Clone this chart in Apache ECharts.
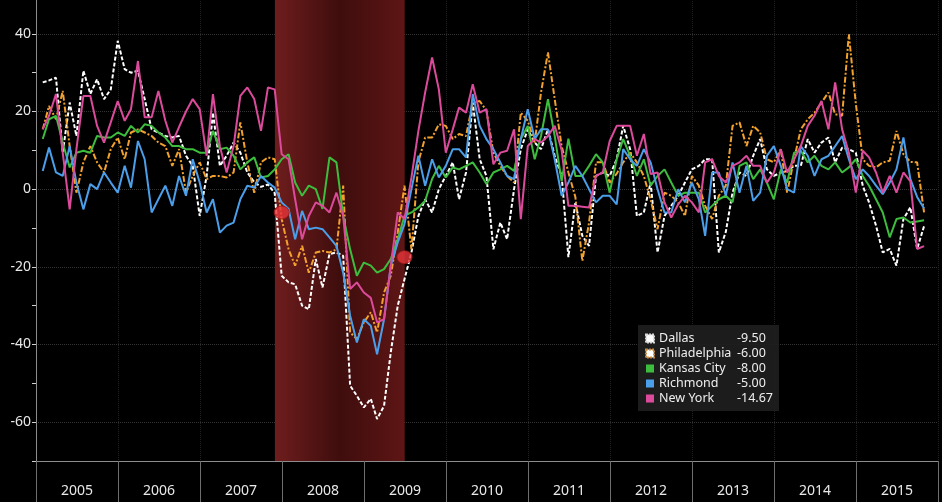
<!DOCTYPE html>
<html>
<head>
<meta charset="utf-8">
<title>Regional Fed manufacturing surveys</title>
<script src="https://cdn.jsdelivr.net/npm/echarts/dist/echarts.min.js"></script>
<style>
html, body { margin: 0; padding: 0; background: #000; }
#survey_content { width: 942px; height: 502px; }
</style>
</head>
<body>
<div id="survey_content"></div>
<script>
// monthly readings, Jan 2005 .. Oct 2015
var startYear = 2005;
var yearLabels = ['2005', '2006', '2007', '2008', '2009', '2010', '2011', '2012', '2013', '2014', '2015'];
var seriesNames = ['Dallas', 'Philadelphia', 'Kansas City', 'Richmond', 'New York'];

var dallas = [
    27.5, 28, 28.7, 9.4, 22.3, 13.7, 30.5, 24.5, 28.3, 23.2,
    25.7, 38.2, 30.9, 30, 30.5, 23.2, 15.4, 14.6, 13.7, 13.3,
    13.7, 8.6, 6, -6.9, 3.4, 19.7, 6, 8.6, 12, 9.4,
    4.3, 1.8, 0.6, 1.2, -1, -22.3, -24, -24.5, -30, -30.9,
    -18, -25.3, -16.7, -16.3, -17.2, -50.6, -53.2, -56.2, -54, -59.2,
    -55.8, -42, -30, -23.2, -16.3, -6.9, -2.6, -6, 0, 3.4,
    6.9, -2.6, 4.3, 22.3, 7.7, 3.4, -15.5, -8.6, -12.9, 0,
    10.3, 15.4, 12, 10.3, 15.4, 8.6, 3.4, -17.5, -3.4, -12,
    -14.6, 3.4, 4.3, 3.4, 7.7, 16.3, 10.3, -6.9, -6, 1.7,
    -16.3, -6.9, -4.3, -1.7, 1.7, 5.1, 6, 7.7, 7.7, -16.3,
    -11, -0.9, 4.3, 3.4, 8.6, 12.9, 5.1, 3.4, 4.3, 4.7,
    6, 6, 12.9, 9.4, 12, 13.3, 6.9, 10.7, 10.3, 9.4,
    0.9, -3.4, -9.4, -16.3, -15.4, -19.7, -7.7, -4.7, -15.4, -9.5
];
var philadelphia = [
    15.4, 21.4, 18, 25.3, 11.1, -0.9, 6.9, 11.1, 6.9, 4.3,
    10.3, 13.3, 7.7, 14.6, 15.4, 14.6, 13.7, 12, 11.1, 6,
    10.3, -0.9, 3.4, 6.9, 2.6, 3.4, 3.4, 3, 4.3, 17.2,
    6.9, -0.9, 6.9, 8.2, 7.7, -7.7, -15.5, -19.7, -14.6, -21.5,
    -16.3, -15.9, -16.3, -15.5, 0.9, -36.9, -38.6, -34.3, -31.7, -36.9,
    -26.6, -22.3, -11.2, 0.9, -15.5, 7, 13.3, 13.3, 16.7, 16.3,
    12.9, 14.2, 13.7, 22.3, 22.7, 20.2, 9.4, 6, 3.4, 1.7,
    19.7, 17.6, 12, 24.9, 35.2, 23.2, 11.1, 4.3, -2, -18.5,
    -8.6, 6.9, 6.9, 1.7, 4, 6.9, 9.4, 6.9, 3.4, -2.6,
    -10.3, -0.9, -1.7, -3.4, -6.9, 3.4, 0.9, -4.3, -7.7, -1.7,
    0.9, 16.3, 17.2, 11.1, 16.3, 14.6, 7.7, 6.9, 10.3, -0.9,
    7.7, 15.4, 18, 19.7, 22.3, 24.9, 19.3, 18.9, 39.9, 22,
    7.7, 6, 5.6, 6.9, 7.3, 15, 9, 7, 6.9, -6
];
var kansasCity = [
    12.9, 18, 18.9, 12, 5.6, 9.4, 9.9, 9.4, 13.7, 13.3,
    13.3, 14.6, 13.7, 16.3, 14.6, 16.7, 16.3, 14.6, 13.3, 11.1,
    11.1, 10.3, 10.3, 9.4, 9.4, 15, 10.3, 10.7, 8.6, 5.1,
    6.9, 8.2, 3, 3.4, 5.1, 7.7, 9, 1.7, -1.7, 0.9,
    0, -5.1, 8.2, 6.9, -6.9, -15.5, -22.3, -18.9, -19.7, -21.5,
    -20.6, -18, -12.9, -6.9, -6, -4.7, -3, 2.6, 6, 3,
    5.6, 5.1, 6, 6.9, 4.3, 1.3, 4.3, 5.1, 6, 4.7,
    12.9, 16.3, 7.7, 13.7, 23.2, 13.7, 2, 13, 3.4, 3.4,
    6, 9, 6.9, -0.9, 7.7, 12.9, 8.6, 3.4, 7.7, 0.9,
    3.4, 5.1, 1.7, -1.7, -0.9, -0.9, -0.9, -6, -4.3, -2.6,
    -1.7, -3.4, 6, 6.9, 2.6, 5.1, 1.7, -2.6, 5.1, 1.7,
    9.4, 9.9, 6.9, 8.6, 6, 5.1, 6.9, 4.3, 5.6, 7.7,
    3.4, 0.9, -2.6, -6, -12.4, -7.7, -7.3, -8.6, -8.3, -8
];
var richmond = [
    4.7, 10.7, 4.3, 3.4, 11.1, 1.7, -5.2, 1.3, 0, 4.3,
    1.7, -0.9, 6, 0.4, 12.4, 7.7, -6, -2.6, 0.9, -4.3,
    3.4, -1.7, 7.7, 1.7, -6, -2.6, -11.2, -9.4, -8.6, -2.6,
    0.9, 0.4, 3.4, 1.7, 0.4, -3.4, -5.1, -12.9, -5.6, -10.3,
    -9.9, -10.3, -12.4, -14.6, -21.5, -32.6, -39.5, -33.5, -35.2, -42.5,
    -33.5, -19.7, -13.7, -9, 0, 8.6, 0.9, 7.7, 3, 6,
    10.3, 10.3, 8.2, 24.5, 16.3, 12.9, 10.3, 6.9, 3.4, 2.6,
    12.9, 20.6, 12.9, 15.4, 15.4, 7.7, -1.7, 1.7, 6, 3.4,
    0, -3.4, -1.7, -1.7, -3.9, 10.3, 7.7, 6, 10.3, 6.9,
    0, -6, -6, 0, -3.4, 1.7, -2.6, -12, 4.3, 4.3,
    -1.7, 6.9, -0.9, 6, -3, -0.9, 8.6, 11.1, 6, 0,
    -0.9, 11.1, 8.6, 3.4, 7.7, 8.6, 11.1, 13.7, 7.7, 2.6,
    5.1, 3.4, 0.9, -1.3, 1.7, 5.1, 13.3, 2.6, -2, -5
];
var newYork = [
    15.4, 18.9, 24.5, 9.4, -5.2, 10.3, 24, 24, 16.3, 12,
    17.2, 22.7, 17.6, 20.6, 33, 18.5, 18.5, 25.3, 17.6, 12,
    16, 20, 23.2, 20.6, 8.6, 24.5, 11, 4.3, 11.1, 24,
    26.2, 23.2, 15, 26.2, 25.7, 9, 7.7, -2.6, -12.9, -6.9,
    -3.4, -4.3, -6, -0.9, -6.9, -25.7, -24, -26.6, -28, -34.3,
    -33.5, -19.7, -6, -7.7, 3, 15, 24.9, 33.9, 25.7, 9.4,
    15.4, 21, 19.7, 27, 19.7, 20.6, 6.4, 9.4, 9.9, 15.4,
    -7.7, 11.1, 12.9, 12, 13.7, 16.3, 10, -4.3, -4.3, -4.5,
    -4.7, 3.4, 4.3, 12.4, 16.3, 16.3, 16.3, 8.6, 14.2, 3.9,
    4.3, -3.4, -7.3, -3.9, -1.7, -3.4, -6, 6.9, 7.7, 3.4,
    1.7, 6, 6.9, 8.6, 6, 6, 1.7, 4.3, 10.3, 4.3,
    7.7, 11.1, 16.3, 18.9, 22.7, 15.4, 27.5, 15.4, 9.4, -0.9,
    9.9, 8.2, 4.3, -0.9, 3.4, -0.9, 4.3, 2, -15.4, -14.67
];

// NBER recession and the two event flags on it
var recession = [[2007, 12], [2009, 7]];
var recessionMarks = [[2007, 12, -6], [2009, 6, -17.5]];

function RegionalSurveys(){

}
RegionalSurveys.prototype.init = function(){
    this.loadSurveyChart();
}
RegionalSurveys.prototype.monthEnd = function(year, month){
    return new Date(year, month, 0).getTime();
}
RegionalSurveys.prototype.toPairs = function(values){
    var self = this;
    return values.map(function(v, i){
        return [self.monthEnd(startYear, i + 1), v];
    });
}
RegionalSurveys.prototype.loadSurveyChart = function(){
    var self = this;
    var chartInstance = echarts.init(document.getElementById('survey_content'));
    var font = 'Noto Sans';
    var allValues = [dallas, philadelphia, kansasCity, richmond, newYork];
    var colors = ['#ffffff', '#f2a12e', '#3dbd3d', '#4b9fea', '#dc4a9c'];
    var dashes = [[4, 2], [6, 2, 2, 2], 'solid', 'solid', 'solid'];
    var iconEdge = ['#d8d8d8', '#c98a3a'];

    var lastText = {};
    seriesNames.forEach(function(name, k){
        var arr = allValues[k];
        lastText[name] = arr[arr.length - 1].toFixed(2);
    });

    var legendData = seriesNames.map(function(name, k){
        if (k < 2) {
            return {
                name: name,
                icon: 'emptyRect',
                itemStyle: {
                    color: iconEdge[k],
                    borderColor: iconEdge[k],
                    borderWidth: 1,
                    borderType: [2, 1]
                }
            };
        }
        return { name: name, icon: 'rect', itemStyle: { color: colors[k], borderWidth: 0 } };
    });

    var series = [{
        // recession shading
        type: 'line',
        data: [],
        z: 1,
        silent: true,
        markArea: {
            silent: true,
            itemStyle: {
                color: new echarts.graphic.LinearGradient(0, 0, 1, 0, [
                    { offset: 0, color: '#6e1d1d' },
                    { offset: 0.5, color: '#3f0d0d' },
                    { offset: 1, color: '#5e1515' }
                ])
            },
            data: [[
                { xAxis: new Date(recession[0][0], recession[0][1] - 1, 1).getTime() },
                { xAxis: new Date(recession[1][0], recession[1][1] - 1, 1).getTime() }
            ]]
        }
    }];
    seriesNames.forEach(function(name, k){
        series.push({
            name: name,
            type: 'line',
            xAxisIndex: 0,
            data: self.toPairs(allValues[k]),
            showSymbol: false,
            symbol: 'none',
            z: 3,
            lineStyle: { color: colors[k], width: 2, type: dashes[k] },
            itemStyle: { color: colors[k] }
        });
    });
    series.push({
        type: 'scatter',
        xAxisIndex: 0,
        z: 6,
        silent: true,
        symbol: 'circle',
        symbolSize: [15, 13],
        itemStyle: { color: '#e8343a', borderColor: '#9a1818', borderWidth: 1 },
        data: recessionMarks.map(function(m){
            return [self.monthEnd(m[0], m[1]), m[2]];
        })
    });

    var option = {
        backgroundColor: '#000',
        animation: false,
        grid: {
            left: 36,
            right: 4,
            top: -5,
            bottom: 41,
            containLabel: false,
            outerBoundsMode: 'none'
        },
        legend: {
            orient: 'vertical',
            left: 638,
            top: 325,
            backgroundColor: 'rgba(30,30,30,0.92)',
            padding: [7, 6, 6, 7],
            itemGap: 2,
            itemWidth: 8,
            itemHeight: 8,
            selectedMode: false,
            textStyle: {
                color: '#eeeeee',
                fontFamily: font,
                fontSize: 12.5,
                rich: {
                    n: { width: 78, color: '#eeeeee', fontFamily: font, fontSize: 12.5, lineHeight: 14 },
                    v: { color: '#eeeeee', fontFamily: font, fontSize: 12.5, lineHeight: 14 }
                }
            },
            formatter: function(name){
                return '{n|' + name + '}{v|' + lastText[name] + '}';
            },
            data: legendData
        },
        xAxis: [{
            type: 'time',
            min: new Date(startYear, 0, 1).getTime(),
            max: new Date(startYear + yearLabels.length, 0, 1).getTime(),
            position: 'bottom',
            show: false
        }, {
            type: 'category',
            data: yearLabels,
            position: 'bottom',
            boundaryGap: true,
            axisLine: { lineStyle: { color: '#8c8c8c', width: 1 } },
            axisTick: { show: true, length: 41, lineStyle: { color: '#6e6e6e' } },
            axisLabel: { color: '#e8e8e8', fontSize: 14, fontFamily: font, margin: 23 },
            splitLine: { show: true, lineStyle: { color: '#222222', type: 'dotted' } }
        }],
        yAxis: [{
            type: 'value',
            min: -70,
            max: 50,
            interval: 10,
            axisLine: { show: true, lineStyle: { color: '#8c8c8c' } },
            axisTick: { show: true, length: 4, lineStyle: { color: '#cfcfcf' } },
            axisLabel: {
                color: '#e8e8e8',
                fontSize: 14,
                fontFamily: font,
                margin: 5,
                formatter: function(v){
                    return (v % 20 === 0 && v <= 40) ? String(v) : '';
                }
            },
            splitLine: {
                show: true,
                lineStyle: { color: ['transparent', '#333333'], type: 'dotted' }
            }
        }],
        series: series
    };
    chartInstance.setOption(option, true);
    window.onresize = function(){
        chartInstance.resize();
    }
}
var start_surveys = new RegionalSurveys();
start_surveys.init();
</script>
</body>
</html>
